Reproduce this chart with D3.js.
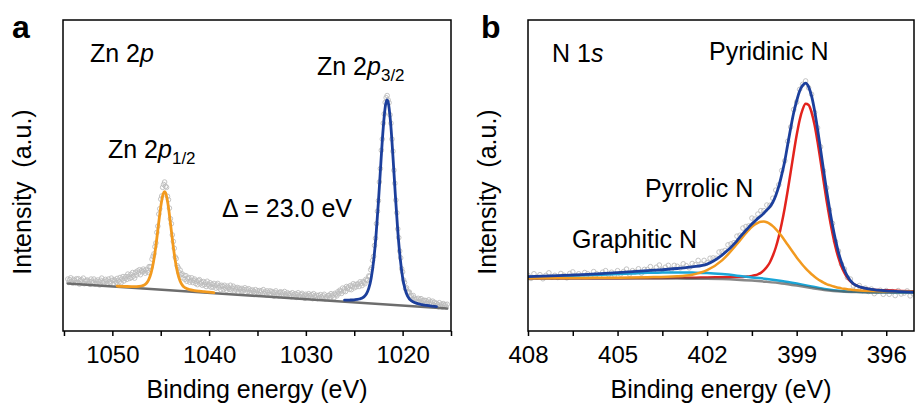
<!DOCTYPE html>
<html>
<head>
<meta charset="utf-8">
<script src="https://cdn.jsdelivr.net/npm/d3@7/dist/d3.min.js"></script>
<style>
body { margin: 0; background: #fff; }
svg text { font-family: "Liberation Sans", Arial, sans-serif; fill: #000; }
</style>
</head>
<body>
<div class="chart"></div>
<script>
// ---------- panel a : Zn 2p ----------
// raw spectrum, one point every 0.1 eV starting at 1054.6 eV
var znStart = 1054.6, znStep = 0.1;
var znRaw = [
  16.7, 15.6, 16.5, 17.1, 15.9, 15.4, 16.6, 16.2, 15.6, 16.8,
  15.7, 16.8, 15.1, 16.2, 16.5, 15.5, 17.0, 15.2, 15.9, 16.2,
  16.4, 15.3, 16.0, 15.0, 16.7, 16.0, 15.5, 16.7, 15.1, 16.1,
  15.3, 16.4, 15.8, 14.8, 16.3, 17.0, 15.5, 16.0, 15.1, 16.6,
  16.1, 15.2, 16.7, 15.8, 15.4, 17.0, 16.3, 15.1, 16.5, 16.1,
  15.6, 16.9, 16.3, 15.8, 17.2, 15.5, 16.7, 17.5, 16.1, 16.9,
  17.5, 16.6, 18.3, 17.5, 16.9, 18.2, 17.2, 18.8, 17.7, 17.0,
  18.9, 18.0, 19.3, 18.6, 19.7, 18.1, 19.4, 19.0, 19.9, 19.3,
  18.6, 19.8, 19.3, 18.8, 20.7, 20.7, 20.6, 23.1, 24.0, 24.8,
  27.1, 28.3, 31.7, 33.7, 37.6, 39.3, 42.4, 43.4, 46.2, 47.1,
  47.9, 46.5, 46.2, 43.3, 42.2, 39.5, 36.1, 34.5, 30.9, 28.8,
  26.6, 23.8, 23.3, 21.0, 20.4, 18.8, 19.6, 18.1, 18.4, 17.1,
  17.9, 16.6, 17.8, 16.0, 16.8, 17.2, 15.7, 16.3, 17.1, 15.6,
  16.3, 16.7, 15.3, 16.0, 14.9, 16.2, 16.5, 15.2, 15.7, 14.7,
  15.9, 14.9, 15.5, 14.3, 16.0, 15.0, 14.5, 15.5, 14.1, 15.0,
  14.1, 15.3, 14.6, 13.8, 14.8, 15.3, 13.9, 14.5, 13.3, 14.7,
  14.4, 13.4, 14.7, 13.8, 13.1, 14.4, 13.9, 13.4, 14.7, 13.2,
  13.8, 14.4, 12.9, 13.8, 13.2, 14.0, 12.5, 13.8, 13.4, 12.8,
  13.7, 12.8, 13.3, 13.9, 12.3, 13.4, 12.7, 13.6, 12.3, 13.1,
  12.3, 13.2, 12.7, 12.0, 13.3, 12.3, 12.9, 11.8, 13.0, 12.4,
  12.9, 11.9, 13.3, 12.1, 12.6, 11.6, 12.9, 12.4, 11.8, 12.9,
  11.8, 12.7, 12.3, 11.2, 12.4, 12.9, 11.6, 12.2, 11.3, 12.4,
  12.6, 11.7, 12.3, 11.2, 12.7, 11.8, 11.2, 12.3, 11.9, 11.3,
  12.0, 11.0, 12.3, 11.6, 11.2, 12.0, 10.8, 11.7, 12.3, 11.2,
  10.9, 11.7, 12.1, 11.0, 11.5, 10.5, 11.8, 11.3, 10.9, 12.0,
  11.4, 10.8, 11.7, 10.4, 12.0, 11.3, 10.8, 11.5, 10.4, 11.4,
  10.7, 11.7, 11.0, 10.5, 11.3, 11.8, 10.3, 11.0, 10.6, 11.4,
  11.5, 10.7, 12.0, 11.2, 11.6, 10.7, 12.1, 11.7, 11.3, 12.6,
  12.0, 13.1, 12.8, 12.1, 13.8, 12.8, 13.6, 12.7, 14.3, 13.7,
  14.1, 13.4, 14.6, 13.3, 14.4, 15.2, 13.9, 14.9, 14.2, 15.1,
  15.1, 14.3, 15.8, 15.2, 14.6, 15.9, 15.6, 15.2, 16.6, 16.3,
  16.4, 17.7, 17.6, 19.7, 20.3, 22.7, 24.0, 27.5, 29.8, 34.5,
  38.5, 41.9, 47.9, 52.2, 58.1, 61.7, 66.8, 69.8, 73.5, 75.0,
  75.7, 74.3, 73.4, 69.5, 66.8, 61.7, 57.8, 51.7, 47.5, 42.1,
  38.0, 32.8, 30.0, 25.7, 23.5, 20.0, 19.0, 16.4, 15.6, 13.6,
  13.9, 12.3, 12.5, 12.5, 10.9, 11.3, 10.2, 11.4, 10.6, 10.0,
  10.3, 9.4, 10.5, 9.5, 10.0, 10.4, 9.0, 9.7, 9.9, 9.0,
  9.8, 8.9, 9.3, 10.0, 8.6, 9.4, 8.8, 9.6, 8.3, 9.2,
  8.0, 8.9, 8.5, 7.8, 9.1, 8.1, 8.6, 7.7, 8.8, 8.2,
  8.5, 7.7, 8.6
];

// linear background
var znBaseE = [1054.6, 1015.4];
var znBaseI = [15.3, 7.2];

// Zn 2p1/2 fit
var znP12E = [1049.5, 1049, 1048.5, 1048, 1047.5, 1047, 1046.75, 1046.5, 1046.25, 1046,
  1045.75, 1045.5, 1045.25, 1045, 1044.75, 1044.6, 1044.5, 1044.25, 1044, 1043.75,
  1043.5, 1043.25, 1043, 1042.75, 1042.5, 1042, 1041.5, 1041, 1040.5, 1040, 1039.5];
var znP12I = [14.42, 14.35, 14.31, 14.29, 14.30, 14.47, 14.72, 15.27, 16.42, 18.59,
  22.19, 27.39, 33.71, 39.91, 44.09, 44.83, 44.46, 40.83, 34.77, 28.24,
  22.66, 18.62, 16.09, 14.67, 13.93, 13.29, 13.01, 12.81, 12.64, 12.48, 12.34];

// Zn 2p3/2 fit
var znP32E = [1026, 1025.5, 1025, 1024.5, 1024, 1023.75, 1023.5, 1023.25, 1023, 1022.75,
  1022.5, 1022.25, 1022, 1021.75, 1021.6, 1021.5, 1021.25, 1021, 1020.75, 1020.5,
  1020.25, 1020, 1019.75, 1019.5, 1019, 1018.5, 1018, 1017.5, 1017, 1016.5];
var znP32I = [9.92, 9.96, 10.04, 10.28, 10.98, 11.90, 13.69, 16.97, 22.46, 30.70,
  41.57, 53.94, 65.46, 72.96, 74.28, 73.65, 67.24, 56.16, 43.64, 32.22,
  23.33, 17.20, 13.44, 11.30, 9.52, 8.87, 8.52, 8.24, 8.02, 7.83];

var znMajor = [1050, 1040, 1030, 1020];
var znMinor = [1055, 1045, 1035, 1025, 1015];

// ---------- panel b : N 1s ----------
var nStart = 408.0, nStep = 0.1;
var nRaw = [
  17.9, 16.9, 18.4, 17.3, 18.1, 16.8, 17.9, 18.7, 17.3, 17.9,
  17.2, 18.5, 17.9, 17.1, 18.5, 19.0, 17.7, 18.4, 17.5, 18.8,
  18.4, 17.7, 19.1, 18.4, 17.7, 18.9, 19.4, 18.1, 18.9, 18.0,
  19.4, 18.3, 19.1, 19.9, 18.3, 19.4, 19.1, 20.0, 18.6, 19.8,
  19.8, 20.7, 19.4, 20.5, 21.2, 19.8, 20.5, 21.1, 19.8, 21.1,
  20.8, 20.3, 21.6, 21.0, 20.3, 21.7, 21.3, 22.7, 21.5, 22.7,
  22.0, 23.4, 23.5, 23.4, 25.4, 25.6, 25.9, 27.7, 28.0, 28.4,
  30.5, 30.8, 33.1, 33.6, 33.8, 36.3, 36.0, 37.6, 38.7, 38.7,
  40.5, 40.4, 42.7, 45.3, 47.0, 51.6, 54.7, 61.0, 65.6, 71.2,
  73.6, 77.7, 79.3, 80.4, 78.2, 76.1, 70.3, 65.3, 59.2, 51.5,
  46.0, 39.0, 34.6, 28.8, 25.7, 21.5, 19.9, 17.2, 16.7, 14.5,
  14.0, 14.6, 13.0, 13.8, 12.7, 13.5, 12.0, 12.7, 13.1, 11.8,
  13.0, 11.8, 12.7, 11.4, 13.0, 11.9, 12.2, 12.9, 11.3, 12.0,
  11.8
];

// energies shared by the fitted components
var nFitE = [408, 407, 406, 405, 404, 403, 402.5, 402, 401.5,
  401.0, 400.9, 400.8, 400.7, 400.6, 400.5, 400.4, 400.3, 400.2, 400.1,
  400.0, 399.9, 399.8, 399.7, 399.6, 399.5, 399.4, 399.3, 399.2, 399.1,
  399.0, 398.9, 398.8, 398.7, 398.6, 398.5, 398.4, 398.3, 398.2, 398.1,
  398.0, 397.9, 397.8, 397.7, 397.6, 397.5, 397.4, 397.3, 397.2, 397.1,
  397.0, 396.5, 396, 395.5, 395];

var nPyridinic = [17.0, 17.0, 17.0, 17.0, 17.05, 17.1, 17.12, 17.23, 17.29,
  17.35, 17.37, 17.38, 17.47, 17.55, 17.71, 17.93, 18.23, 18.68, 19.48,
  20.56, 22.02, 24.17, 26.85, 30.35, 34.63, 39.57, 45.16, 51.17, 57.23,
  63.0, 67.87, 71.25, 73.04, 72.65, 70.24, 66.26, 60.8, 54.63, 48.29,
  42.06, 36.42, 31.38, 27.04, 23.48, 20.74, 18.69, 17.11, 15.95, 15.17,
  14.63, 13.38, 13.08, 12.88, 12.75];

var nPyrrolic = [17.0, 17.03, 17.08, 17.15, 17.29, 17.59, 18.1, 19.55, 22.72,
  27.96, 29.15, 30.32, 31.46, 32.53, 33.47, 34.24, 34.8, 35.12, 35.18,
  34.96, 34.46, 33.72, 32.77, 31.67, 30.44, 29.1, 27.72, 26.34, 24.98,
  23.67, 22.41, 21.23, 20.14, 19.15, 18.24, 17.46, 16.75, 16.13, 15.58,
  15.1, 14.74, 14.42, 14.15, 13.91, 13.7, 13.56, 13.43, 13.32, 13.22,
  13.13, 12.85, 12.76, 12.69, 12.64];

var nEnvelope = [17.5, 17.8, 18.2, 18.75, 19.4, 20.1, 20.6, 21.5, 24.4,
  29.0, 30.2, 31.3, 32.4, 33.4, 34.4, 35.3, 36.2, 37.0, 37.9,
  38.9, 39.9, 41.4, 43.6, 46.5, 50.3, 54.6, 60.0, 65.3, 70.2,
  74.0, 77.2, 79.0, 79.7, 78.5, 75.5, 70.8, 64.9, 58.4, 51.8,
  45.3, 39.4, 34.0, 29.3, 25.3, 22.1, 19.6, 17.6, 16.2, 15.2,
  14.6, 13.4, 12.9, 12.65, 12.5];

// graphitic N, coarser grid
var nGraphE = [408, 407, 406, 405, 404.5, 404, 403.5, 403, 402.5, 402, 401.5, 401,
  400.5, 400, 399.5, 399, 398.5, 398, 397.5, 397, 396.5, 396, 395];
var nGraphitic = [17.4, 17.6, 17.9, 18.3, 18.5, 18.7, 18.78, 18.85, 18.78, 18.65, 18.3, 17.8,
  17.22, 16.75, 16.1, 15.25, 14.3, 13.4, 12.85, 12.58, 12.44, 12.42, 12.4];

// Shirley background
var nBgE = [408, 404, 403, 402, 401.5, 401, 400.5, 400, 399.5, 399, 398.5, 398, 397.5, 397, 396.5, 395];
var nBg = [16.9, 16.9, 16.85, 16.8, 16.7, 16.5, 16.2, 15.8, 15.3, 14.6, 13.8, 13.1, 12.7, 12.5, 12.4, 12.4];

var nMajor = [408, 405, 402, 399, 396];
var nMinor = [406.5, 403.5, 400.5, 397.5];

var width = 915;
var height = 407;

var svg = d3.select(".chart")
    .append("svg")
    .attr("width", width)
    .attr("height", height);

var top_ = 20, bottom_ = 331;

function pairs(E, I) {
    return E.map(function (e, i) { return [e, I[i]]; });
}

function drawPanel(p) {
    var x = d3.scaleLinear().domain(p.domain).range([p.left, p.right]);
    var y = d3.scaleLinear().domain([0, 100]).range([bottom_, top_]);

    var g = svg.append("g");

    g.append("clipPath").attr("id", "clip-" + p.id)
        .append("rect")
        .attr("x", p.left).attr("y", top_)
        .attr("width", p.right - p.left).attr("height", bottom_ - top_);

    var plot = g.append("g").attr("clip-path", "url(#clip-" + p.id + ")");

    // raw data as open circles
    plot.selectAll("circle")
        .data(p.raw)
        .enter()
        .append("circle")
        .attr("cx", function (d, i) { return x(p.start - i * p.step); })
        .attr("cy", function (d) { return y(d); })
        .attr("r", 2.3)
        .attr("fill", "none")
        .attr("stroke", "#bcbcbc")
        .attr("stroke-width", 0.9);

    var line = d3.line()
        .x(function (d) { return x(d[0]); })
        .y(function (d) { return y(d[1]); })
        .curve(d3.curveMonotoneX);

    p.curves.forEach(function (c) {
        plot.append("path")
            .datum(pairs(c.E, c.I))
            .attr("fill", "none")
            .attr("stroke", c.color)
            .attr("stroke-width", c.w)
            .attr("stroke-opacity", c.op || 1)
            .attr("stroke-linecap", "round")
            .attr("d", line);
    });

    // frame
    g.append("rect")
        .attr("x", p.left).attr("y", top_)
        .attr("width", p.right - p.left).attr("height", bottom_ - top_)
        .attr("fill", "none")
        .attr("stroke", "#000")
        .attr("stroke-width", 1.5);

    var ax = g.append("g")
        .attr("transform", "translate(0," + bottom_ + ")")
        .call(d3.axisBottom(x).tickValues(p.major).tickSize(5).tickPadding(10).tickFormat(d3.format("d")));
    ax.select(".domain").remove();
    ax.selectAll("line").attr("stroke-width", 1.5);
    ax.selectAll("text")
        .style("font-family", "'Liberation Sans', Arial, sans-serif")
        .style("font-size", "24px");

    var mx = g.append("g")
        .attr("transform", "translate(0," + bottom_ + ")")
        .call(d3.axisBottom(x).tickValues(p.minor).tickSize(5).tickFormat(""));
    mx.select(".domain").remove();
    mx.selectAll("line").attr("stroke-width", 1.5);

    // axis titles
    g.append("text")
        .attr("x", (p.left + p.right) / 2)
        .attr("y", 398)
        .attr("text-anchor", "middle")
        .style("font-size", "25px")
        .text("Binding energy (eV)");

    g.append("text")
        .attr("transform", "translate(" + p.ylabX + ",192) rotate(-90)")
        .attr("text-anchor", "middle")
        .style("font-size", "25px")
        .style("white-space", "pre")
        .attr("xml:space", "preserve")
        .text("Intensity  (a.u.)");

    g.append("text")
        .attr("x", p.letterX)
        .attr("y", 38)
        .style("font-size", "32px")
        .style("font-weight", "bold")
        .text(p.letter);

    return g;
}

var ga = drawPanel({
    id: "a", left: 63, right: 451, domain: [1055.1, 1015],
    raw: znRaw, start: znStart, step: znStep,
    major: znMajor, minor: znMinor,
    ylabX: 31, letter: "a", letterX: 12,
    curves: [
        { E: znBaseE, I: znBaseI, color: "#6d6d6d", w: 2.5 },
        { E: znP12E, I: znP12I, color: "#f29a1f", w: 2.8 },
        { E: znP32E, I: znP32I, color: "#1c3f9c", w: 2.8 }
    ]
});

var gb = drawPanel({
    id: "b", left: 528, right: 914, domain: [408, 395.07],
    raw: nRaw, start: nStart, step: nStep,
    major: nMajor, minor: nMinor,
    ylabX: 496, letter: "b", letterX: 481,
    curves: [
        { E: nFitE, I: nPyridinic, color: "#e3231d", w: 2.5 },
        { E: nGraphE, I: nGraphitic, color: "#1aa6d8", w: 2.5 },
        { E: nBgE, I: nBg, color: "#555555", w: 2.5, op: 0.7 },
        { E: nFitE, I: nPyrrolic, color: "#f29a1f", w: 2.5 },
        { E: nFitE, I: nEnvelope, color: "#1c3f9c", w: 2.8 }
    ]
});

// annotations
function label(x, y, parts) {
    var t = svg.append("text").attr("x", x).attr("y", y).style("font-size", "25px");
    parts.forEach(function (s) {
        var ts = t.append("tspan").text(s.t);
        if (s.it) ts.style("font-style", "italic");
        if (s.sub) ts.style("font-size", "17px").attr("dy", 6);
    });
}

label(90, 62, [{ t: "Zn 2" }, { t: "p", it: true }]);
label(317, 75, [{ t: "Zn 2" }, { t: "p", it: true }, { t: "3/2", sub: true }]);
label(108, 158, [{ t: "Zn 2" }, { t: "p", it: true }, { t: "1/2", sub: true }]);
label(222, 217, [{ t: "\u0394 = 23.0 eV" }]);

label(552, 62, [{ t: "N 1" }, { t: "s", it: true }]);
label(709, 60, [{ t: "Pyridinic N" }]);
label(645, 197, [{ t: "Pyrrolic N" }]);
label(572, 248, [{ t: "Graphitic N" }]);
</script>
</body>
</html>
